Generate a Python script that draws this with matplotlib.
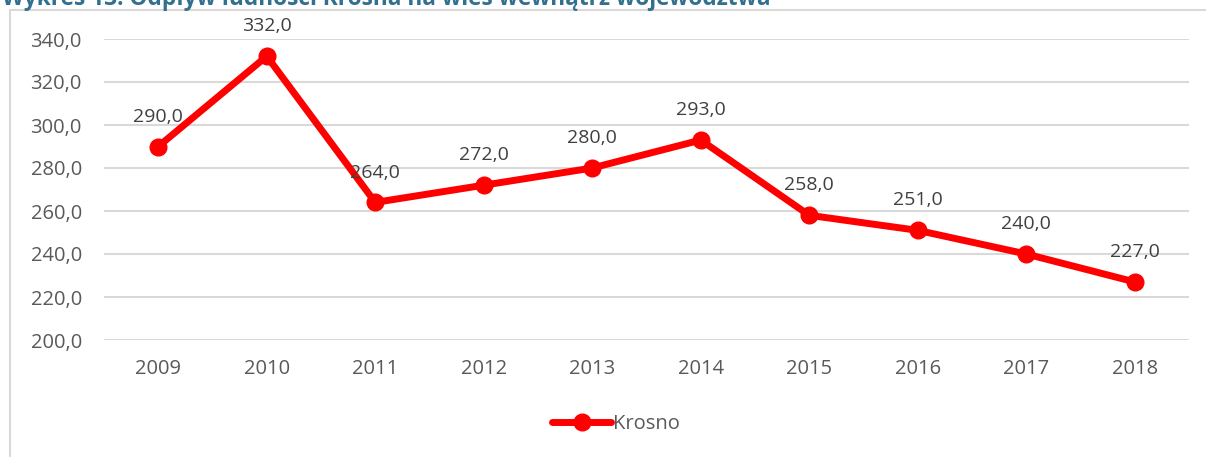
import matplotlib.pyplot as plt
from matplotlib.patches import Rectangle

plt.rcParams['font.family'] = ['Open Sans', 'DejaVu Sans']

years = ['2009', '2010', '2011', '2012', '2013', '2014', '2015', '2016', '2017', '2018']
krosno = [290.0, 332.0, 264.0, 272.0, 280.0, 293.0, 258.0, 251.0, 240.0, 227.0]
y_ticks = [200, 220, 240, 260, 280, 300, 320, 340]

W, H = 1206, 457
fig = plt.figure(figsize=(W / 100, H / 100), dpi=100)

# chart frame (clipped on right and bottom like the source)
fig.patches.append(Rectangle((10 / W, -0.1), 1.2, 1.1 - 10 / H, transform=fig.transFigure,
                             fill=False, edgecolor='#D9D9D9', linewidth=1.5))

# title, cut off at the top as in the source
fig.text(2 / W, 1 - 5 / H, 'Wykres 13. Odpływ ludności Krosna na wieś wewnątrz województwa',
         color='#31708F', fontsize=16.3, fontweight='bold', va='baseline', ha='left')

ax = fig.add_axes([104 / W, 1 - 340 / H, 1085 / W, 301 / H])
x = list(range(len(years)))
ax.plot(x, krosno, color='#FF0000', linewidth=5, marker='o', markersize=12,
        solid_capstyle='round', label='Krosno', zorder=3)

for xi, v in zip(x, krosno):
    ax.annotate(f'{v:.1f}'.replace('.', ','), (xi, v), xytext=(0, 21.5), textcoords='offset points',
                ha='center', va='center', fontsize=14, color='#404040')

ax.set_xlim(-0.5, len(years) - 0.5)
ax.set_ylim(200, 340)
ax.set_xticks(x)
ax.set_xticklabels(years)
ax.set_yticks(y_ticks)
ax.set_yticklabels([f'{t:.1f}'.replace('.', ',') for t in y_ticks])
ax.tick_params(axis='both', length=0, labelsize=14.5, labelcolor='#595959')
ax.tick_params(axis='y', pad=16)
ax.tick_params(axis='x', pad=14)
ax.grid(axis='y', color='#D9D9D9', linewidth=1.5)
ax.set_axisbelow(True)
for s in ax.spines.values():
    s.set_visible(False)

leg = ax.legend(loc='center', bbox_to_anchor=((616 - 104) / 1085, (340 - 424) / 301), frameon=False,
                fontsize=14.5, handlelength=2.9, handletextpad=0.1, borderaxespad=0)
for t in leg.get_texts():
    t.set_color('#595959')

fig.savefig('out.png', dpi=100)
